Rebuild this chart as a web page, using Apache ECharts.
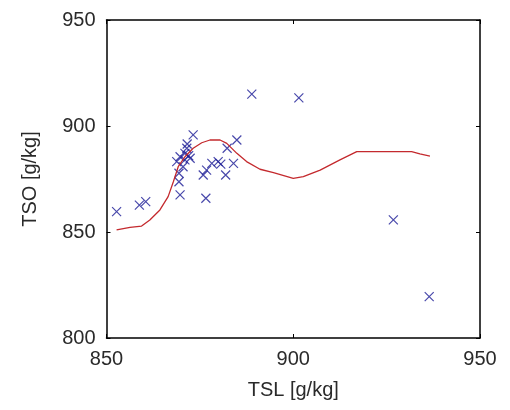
<!DOCTYPE html>
<html><head><meta charset="utf-8">
<script src="https://cdn.jsdelivr.net/npm/echarts@6/dist/echarts.min.js"></script>
<style>html,body{margin:0;padding:0;background:#fff}#c{width:510px;height:410px}</style>
</head><body><div id="c"></div>
<script>
var xTicks = [850, 900, 950];
var yTicks = [800, 850, 900, 950];
var scatterTSL = [852.7, 858.8, 860.5, 869.7, 876.6, 869.4, 869.4, 868.8, 869.7, 871.0, 871.5, 871.6, 873.2, 872.4, 872.0, 875.9, 876.8, 878.2, 879.9, 880.6, 884.0, 881.9, 882.3, 884.9, 888.9, 901.5, 926.8, 936.4, 870.5, 871.0];
var scatterTSO = [859.6, 862.7, 864.3, 867.5, 865.9, 873.7, 877.7, 883.2, 885.5, 887.1, 889.5, 891.5, 895.8, 884.8, 886.0, 876.9, 879.2, 882.4, 883.2, 882.0, 882.4, 876.9, 889.5, 893.4, 915.0, 913.3, 855.7, 819.5, 880.8, 884.0];
var curveTSL = [852.7, 856.3, 859.4, 861.6, 864.3, 866.5, 867.9, 869.2, 871.0, 873.2, 875.5, 877.7, 880.4, 882.2, 884.9, 887.5, 891.1, 894.7, 900.0, 902.7, 907.2, 912.5, 917.0, 931.7, 933.9, 936.6];
var curveTSO = [851.0, 852.2, 852.8, 855.7, 860.4, 866.7, 873.7, 880.8, 885.5, 889.5, 892.1, 893.4, 893.4, 891.8, 887.1, 883.2, 879.6, 878.0, 875.3, 876.1, 879.2, 884.0, 887.9, 887.9, 886.8, 885.8];

var scatterData = scatterTSL.map(function(x,i){return [x, scatterTSO[i]];});
var curveData = curveTSL.map(function(x,i){return [x, curveTSO[i]];});

var font = 'Liberation Sans, Arial, sans-serif';
var chart = echarts.init(document.getElementById('c'));
function xAx(pos, labels){
  return {type:'value', position:pos, min:xTicks[0], max:xTicks[xTicks.length-1], interval:50,
    axisLine:{show:true, onZero:false, lineStyle:{color:'#000', width:1.5}},
    axisTick:{show:true, inside:true, length:4, lineStyle:{color:'#000'}},
    axisLabel:{show:labels, color:'#2a2a2a', fontSize:20, fontFamily:font, margin:11},
    splitLine:{show:false},
    name: labels ? 'TSL [g/kg]' : '', nameLocation:'middle', nameGap:42,
    nameTextStyle:{color:'#2a2a2a', fontSize:20, fontFamily:font}};
}
function yAx(pos, labels){
  return {type:'value', position:pos, min:yTicks[0], max:yTicks[yTicks.length-1], interval:50,
    axisLine:{show:true, onZero:false, lineStyle:{color:'#000', width:1.5}},
    axisTick:{show:true, inside:true, length:4, lineStyle:{color:'#000'}},
    axisLabel:{show:labels, color:'#2a2a2a', fontSize:20, fontFamily:font, margin:11},
    splitLine:{show:false},
    name: labels ? 'TSO [g/kg]' : '', nameLocation:'middle', nameGap:66, nameRotate:90,
    nameTextStyle:{color:'#2a2a2a', fontSize:20, fontFamily:font}};
}
chart.setOption({
  animation:false,
  backgroundColor:'#fff',
  grid:{left:106.5, right:30, top:20, bottom:72},
  xAxis:[xAx('bottom', true), xAx('top', false)],
  yAxis:[yAx('left', true), yAx('right', false)],
  series:[
    {type:'scatter', xAxisIndex:0, yAxisIndex:0, data:scatterData,
      symbol:'path://M0,0L10,10M10,0L0,10', symbolSize:9,
      itemStyle:{color:'rgba(0,0,0,0)', borderColor:'#1c1c96', borderWidth:1.2}},
    {type:'line', xAxisIndex:0, yAxisIndex:0, data:curveData, showSymbol:false, smooth:false,
      lineStyle:{color:'#c42a2e', width:1.3}}
  ]
});
</script></body></html>
